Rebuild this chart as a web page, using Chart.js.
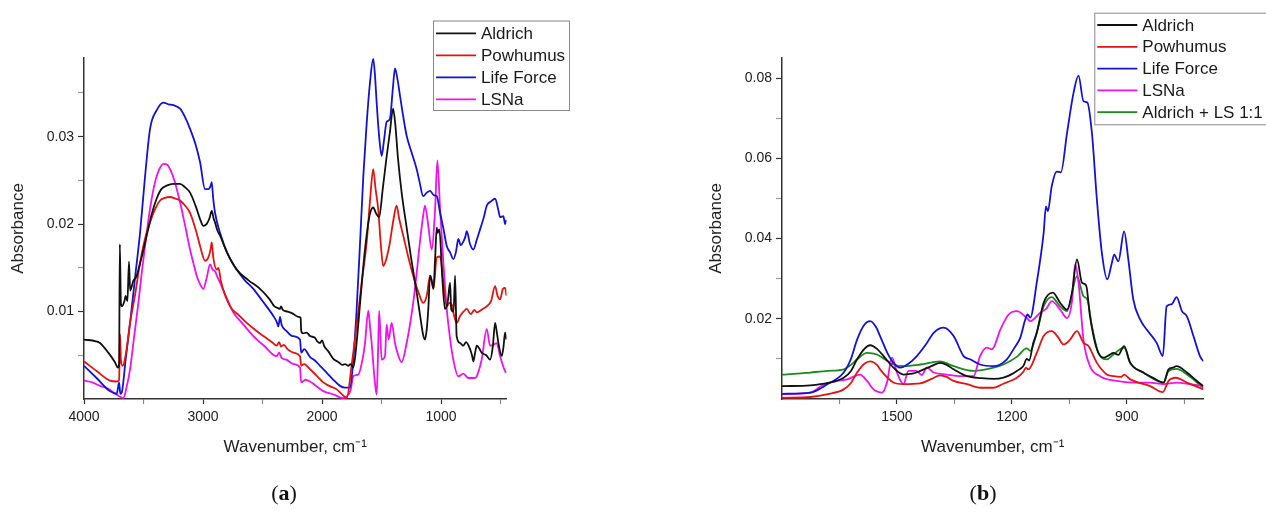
<!DOCTYPE html>
<html>
<head>
<meta charset="utf-8">
<script src="https://cdn.jsdelivr.net/npm/chart.js@4.4.1/dist/chart.umd.min.js"></script>
<style>
  body { margin: 0; background: #fff; }
  #wrap { position: relative; width: 1266px; height: 521px; overflow: hidden; }
  .panel { position: absolute; top: 0; }
  .tag { position: absolute; top: 480px; font: 22px "Liberation Serif", "DejaVu Serif", serif; color: #111; transform: translateX(-50%); }
</style>
</head>
<body>
<div id="wrap">
  <canvas id="chartA" class="panel" width="633" height="521" style="left:0"></canvas>
  <canvas id="chartB" class="panel" width="633" height="521" style="left:633px"></canvas>
  <div class="tag" style="left:284px">(<b>a</b>)</div>
  <div class="tag" style="left:983px">(<b>b</b>)</div>
</div>
<script>
// ---- panel (a): 4000-450 cm-1, [wavenumber, absorbance]
const aldrichA = [[4000,0.0068],[3900,0.0066],[3866,0.0064],[3796,0.0053],[3740,0.0042],[3715,0.0036],[3705,0.0040],[3699,0.0177],[3690,0.0110],[3681,0.0106],[3660,0.0112],[3650,0.0118],[3635,0.0112],[3622,0.0157],[3612,0.0124],[3586,0.0135],[3560,0.0140],[3520,0.0160],[3473,0.0187],[3430,0.0212],[3390,0.0229],[3350,0.0240],[3306,0.0244],[3250,0.0246],[3194,0.0246],[3150,0.0242],[3109,0.0236],[3060,0.0220],[3020,0.0204],[2997,0.0198],[2970,0.0200],[2945,0.0207],[2927,0.0215],[2910,0.0206],[2899,0.0202],[2880,0.0193],[2857,0.0187],[2800,0.0168],[2717,0.0148],[2620,0.0136],[2521,0.0126],[2440,0.0114],[2400,0.0106],[2370,0.0104],[2353,0.0103],[2345,0.0106],[2330,0.0102],[2290,0.0100],[2250,0.0098],[2200,0.0094],[2180,0.0093],[2175,0.0078],[2160,0.0075],[2130,0.0076],[2101,0.0072],[2060,0.0070],[2040,0.0066],[2017,0.0064],[2000,0.0067],[1980,0.0060],[1950,0.0055],[1905,0.0046],[1860,0.0042],[1830,0.0039],[1807,0.0040],[1780,0.0038],[1760,0.0040],[1737,0.0036],[1709,0.0065],[1680,0.0110],[1640,0.0170],[1600,0.0210],[1570,0.0219],[1545,0.0212],[1520,0.0208],[1490,0.0240],[1460,0.0274],[1430,0.0305],[1403,0.0332],[1385,0.0315],[1361,0.0274],[1330,0.0235],[1291,0.0198],[1250,0.0160],[1205,0.0122],[1170,0.0090],[1150,0.0073],[1135,0.0068],[1120,0.0080],[1107,0.0103],[1092,0.0141],[1078,0.0135],[1064,0.0126],[1050,0.0160],[1036,0.0196],[1030,0.0190],[1014,0.0194],[990,0.0140],[967,0.0103],[945,0.0110],[924,0.0133],[915,0.0103],[895,0.0100],[882,0.0141],[869,0.0072],[840,0.0064],[813,0.0061],[790,0.0065],[756,0.0057],[740,0.0050],[728,0.0043],[715,0.0052],[700,0.0061],[680,0.0058],[659,0.0053],[620,0.0050],[588,0.0045],[565,0.0060],[546,0.0087],[530,0.0075],[518,0.0064],[490,0.0049],[475,0.0060],[462,0.0076],[450,0.0068]];
const powhumusA = [[4000,0.0043],[3894,0.0032],[3782,0.0021],[3725,0.0020],[3705,0.0022],[3697,0.0074],[3690,0.0045],[3675,0.0038],[3650,0.0050],[3613,0.0087],[3570,0.0120],[3529,0.0156],[3490,0.0182],[3445,0.0202],[3400,0.0218],[3361,0.0227],[3320,0.0230],[3277,0.0231],[3230,0.0229],[3193,0.0227],[3150,0.0221],[3109,0.0213],[3060,0.0193],[3025,0.0175],[2983,0.0158],[2955,0.0162],[2935,0.0172],[2927,0.0179],[2913,0.0161],[2885,0.0148],[2870,0.0150],[2850,0.0135],[2773,0.0106],[2700,0.0096],[2633,0.0087],[2560,0.0079],[2493,0.0072],[2420,0.0065],[2381,0.0061],[2360,0.0065],[2345,0.0060],[2320,0.0062],[2290,0.0057],[2240,0.0053],[2185,0.0049],[2175,0.0038],[2150,0.0040],[2101,0.0034],[2070,0.0030],[2040,0.0026],[1989,0.0019],[1940,0.0015],[1877,0.0011],[1830,0.0005],[1793,0.0001],[1750,0.0040],[1709,0.0084],[1665,0.0135],[1625,0.0179],[1595,0.0230],[1570,0.0263],[1550,0.0240],[1528,0.0217],[1505,0.0175],[1486,0.0152],[1460,0.0160],[1430,0.0179],[1400,0.0205],[1374,0.0221],[1350,0.0205],[1318,0.0187],[1280,0.0165],[1234,0.0141],[1190,0.0122],[1150,0.0110],[1120,0.0118],[1092,0.0141],[1078,0.0135],[1064,0.0126],[1036,0.0162],[1008,0.0163],[980,0.0133],[952,0.0106],[930,0.0110],[910,0.0108],[890,0.0095],[869,0.0087],[840,0.0095],[810,0.0100],[784,0.0103],[750,0.0097],[720,0.0102],[700,0.0099],[650,0.0103],[616,0.0106],[580,0.0112],[546,0.0129],[525,0.0118],[504,0.0114],[480,0.0126],[462,0.0127],[450,0.0118]];
const lifeForceA = [[4000,0.0038],[3894,0.0024],[3782,0.0009],[3725,0.0006],[3705,0.0019],[3695,0.0006],[3684,0.0007],[3650,0.0045],[3613,0.0087],[3570,0.0140],[3529,0.0190],[3490,0.0250],[3445,0.0309],[3390,0.0330],[3333,0.0339],[3290,0.0337],[3249,0.0336],[3193,0.0332],[3150,0.0322],[3109,0.0309],[3060,0.0290],[3025,0.0271],[2983,0.0240],[2955,0.0240],[2935,0.0244],[2927,0.0248],[2915,0.0230],[2899,0.0213],[2857,0.0190],[2790,0.0165],[2717,0.0148],[2650,0.0136],[2577,0.0126],[2500,0.0112],[2409,0.0095],[2380,0.0088],[2367,0.0083],[2353,0.0094],[2340,0.0085],[2300,0.0078],[2250,0.0072],[2185,0.0068],[2175,0.0053],[2150,0.0057],[2100,0.0048],[2060,0.0044],[2017,0.0038],[1960,0.0030],[1905,0.0022],[1849,0.0015],[1807,0.0013],[1765,0.0013],[1740,0.0040],[1709,0.0103],[1680,0.0180],[1653,0.0255],[1625,0.0315],[1597,0.0362],[1570,0.0389],[1555,0.0370],[1541,0.0339],[1520,0.0300],[1499,0.0278],[1480,0.0295],[1457,0.0317],[1430,0.0320],[1405,0.0355],[1387,0.0378],[1365,0.0365],[1345,0.0347],[1320,0.0325],[1289,0.0301],[1250,0.0283],[1205,0.0263],[1180,0.0248],[1150,0.0232],[1120,0.0236],[1092,0.0238],[1060,0.0233],[1036,0.0232],[1008,0.0213],[980,0.0195],[952,0.0175],[925,0.0168],[897,0.0160],[875,0.0168],[855,0.0183],[835,0.0176],[813,0.0180],[795,0.0186],[784,0.0192],[756,0.0177],[728,0.0171],[700,0.0182],[672,0.0194],[640,0.0208],[616,0.0221],[580,0.0226],[546,0.0229],[520,0.0217],[504,0.0208],[476,0.0209],[462,0.0200],[450,0.0205]];
const lsnaA = [[4000,0.0021],[3930,0.0019],[3866,0.0015],[3800,0.0012],[3725,0.0005],[3670,0.0001],[3640,0.0015],[3613,0.0034],[3580,0.0070],[3543,0.0110],[3510,0.0150],[3473,0.0190],[3440,0.0222],[3403,0.0248],[3370,0.0262],[3333,0.0269],[3300,0.0268],[3277,0.0263],[3240,0.0250],[3193,0.0225],[3150,0.0198],[3109,0.0171],[3080,0.0155],[3053,0.0141],[3020,0.0130],[2997,0.0126],[2970,0.0138],[2941,0.0154],[2920,0.0148],[2899,0.0146],[2880,0.0140],[2857,0.0133],[2800,0.0115],[2745,0.0099],[2660,0.0085],[2577,0.0072],[2480,0.0060],[2381,0.0049],[2360,0.0053],[2340,0.0047],[2300,0.0045],[2240,0.0040],[2185,0.0036],[2175,0.0019],[2140,0.0022],[2101,0.0020],[2060,0.0016],[1989,0.0009],[1900,0.0005],[1821,0.0001],[1793,0.0003],[1760,0.0010],[1737,0.0026],[1695,0.0028],[1660,0.0045],[1639,0.0064],[1611,0.0101],[1595,0.0080],[1583,0.0064],[1560,0.0025],[1541,0.0005],[1530,0.0050],[1520,0.0101],[1499,0.0045],[1471,0.0049],[1457,0.0085],[1440,0.0068],[1415,0.0087],[1387,0.0064],[1360,0.0050],[1331,0.0042],[1289,0.0064],[1234,0.0110],[1200,0.0150],[1178,0.0179],[1150,0.0210],[1135,0.0221],[1107,0.0198],[1079,0.0171],[1050,0.0217],[1031,0.0273],[1008,0.0217],[980,0.0155],[952,0.0103],[925,0.0070],[897,0.0045],[855,0.0026],[813,0.0029],[770,0.0024],[720,0.0024],[700,0.0026],[659,0.0045],[616,0.0080],[588,0.0061],[560,0.0062],[532,0.0064],[504,0.0049],[462,0.0032],[450,0.0030]];

// ---- panel (b): 1800-700 cm-1
const aldrichB = [[1800,0.0032],[1726,0.0034],[1680,0.0040],[1639,0.0053],[1620,0.0070],[1604,0.0099],[1585,0.0125],[1570,0.0134],[1552,0.0125],[1535,0.0107],[1509,0.0078],[1483,0.0061],[1460,0.0063],[1439,0.0070],[1410,0.0082],[1387,0.0090],[1370,0.0085],[1352,0.0074],[1317,0.0057],[1280,0.0052],[1248,0.0050],[1222,0.0053],[1200,0.0062],[1187,0.0070],[1170,0.0082],[1161,0.0100],[1155,0.0096],[1144,0.0140],[1135,0.0165],[1117,0.0240],[1093,0.0265],[1074,0.0240],[1056,0.0223],[1043,0.0265],[1030,0.0348],[1017,0.0290],[1006,0.0283],[996,0.0206],[978,0.0124],[961,0.0103],[945,0.0110],[935,0.0115],[922,0.0110],[907,0.0132],[891,0.0090],[857,0.0066],[830,0.0052],[804,0.0041],[791,0.0074],[780,0.0078],[770,0.0082],[743,0.0066],[717,0.0045],[700,0.0032]];
const powhumusB = [[1800,0.0003],[1726,0.0005],[1680,0.0012],[1639,0.0024],[1620,0.0040],[1604,0.0066],[1585,0.0088],[1570,0.0094],[1552,0.0085],[1544,0.0074],[1509,0.0041],[1483,0.0037],[1439,0.0039],[1410,0.0050],[1387,0.0059],[1370,0.0055],[1352,0.0045],[1317,0.0037],[1283,0.0028],[1248,0.0028],[1222,0.0038],[1204,0.0045],[1187,0.0053],[1170,0.0068],[1163,0.0078],[1157,0.0074],[1135,0.0115],[1117,0.0157],[1096,0.0169],[1080,0.0155],[1065,0.0136],[1048,0.0148],[1030,0.0169],[1013,0.0140],[1000,0.0132],[978,0.0090],[952,0.0061],[935,0.0057],[915,0.0055],[907,0.0061],[891,0.0049],[839,0.0032],[806,0.0017],[791,0.0045],[772,0.0053],[743,0.0041],[700,0.0024]];
const lifeForceB = [[1800,0.0013],[1726,0.0016],[1683,0.0036],[1639,0.0066],[1620,0.0100],[1604,0.0148],[1585,0.0185],[1570,0.0194],[1555,0.0180],[1544,0.0157],[1525,0.0115],[1509,0.0090],[1491,0.0078],[1470,0.0088],[1448,0.0107],[1425,0.0135],[1404,0.0165],[1378,0.0178],[1352,0.0157],[1326,0.0107],[1309,0.0099],[1283,0.0086],[1248,0.0082],[1213,0.0099],[1195,0.0125],[1178,0.0153],[1165,0.0198],[1159,0.0211],[1152,0.0203],[1135,0.0290],[1117,0.0414],[1111,0.0480],[1106,0.0468],[1096,0.0530],[1083,0.0567],[1072,0.0565],[1056,0.0663],[1039,0.0763],[1026,0.0806],[1013,0.0742],[1003,0.0739],[991,0.0663],[978,0.0497],[965,0.0364],[951,0.0298],[939,0.0339],[933,0.0360],[922,0.0343],[907,0.0418],[896,0.0348],[883,0.0248],[865,0.0198],[848,0.0173],[822,0.0140],[806,0.0107],[796,0.0231],[783,0.0236],[770,0.0254],[756,0.0219],[743,0.0206],[726,0.0157],[709,0.0107],[700,0.0094]];
const lsnaB = [[1800,0.0012],[1726,0.0016],[1691,0.0036],[1657,0.0045],[1630,0.0049],[1596,0.0061],[1578,0.0045],[1561,0.0024],[1539,0.0016],[1526,0.0041],[1513,0.0103],[1500,0.0066],[1483,0.0037],[1470,0.0070],[1450,0.0070],[1435,0.0060],[1422,0.0078],[1404,0.0066],[1370,0.0061],[1335,0.0057],[1300,0.0057],[1283,0.0107],[1265,0.0128],[1252,0.0124],[1230,0.0173],[1209,0.0210],[1187,0.0219],[1161,0.0202],[1152,0.0194],[1126,0.0215],[1110,0.0225],[1096,0.0244],[1074,0.0223],[1056,0.0202],[1043,0.0244],[1035,0.0335],[1026,0.0290],[1013,0.0148],[996,0.0082],[970,0.0057],[926,0.0045],[883,0.0041],[839,0.0041],[804,0.0037],[770,0.0041],[735,0.0037],[700,0.0032]];
const mixB = [[1800,0.0061],[1760,0.0063],[1726,0.0066],[1680,0.0070],[1639,0.0074],[1620,0.0085],[1604,0.0099],[1578,0.0115],[1552,0.0111],[1530,0.0098],[1509,0.0086],[1483,0.0082],[1439,0.0086],[1387,0.0094],[1352,0.0082],[1300,0.0070],[1248,0.0078],[1222,0.0086],[1187,0.0105],[1161,0.0126],[1152,0.0120],[1135,0.0165],[1117,0.0231],[1096,0.0254],[1074,0.0231],[1056,0.0219],[1030,0.0306],[1013,0.0256],[1003,0.0248],[991,0.0182],[974,0.0115],[952,0.0099],[935,0.0111],[907,0.0128],[891,0.0090],[857,0.0066],[804,0.0041],[791,0.0070],[770,0.0075],[743,0.0061],[700,0.0028]];

// ticks
const xTicksA = [4000, 3500, 3000, 2500, 2000, 1500, 1000, 500];
const xLabelsA = [4000, 3000, 2000, 1000];
const yTicksA = [0.005, 0.01, 0.015, 0.02, 0.025, 0.03, 0.035];
const yLabelsA = ['0.01', '0.02', '0.03'];
const xTicksB = [1650, 1500, 1350, 1200, 1050, 900, 750];
const xLabelsB = [1500, 1200, 900];
const yTicksB = [0.01, 0.02, 0.03, 0.04, 0.05, 0.06, 0.07, 0.08];
const yLabelsB = ['0.02', '0.04', '0.06', '0.08'];

const namesA = ['Aldrich', 'Powhumus', 'Life Force', 'LSNa'];
const namesB = ['Aldrich', 'Powhumus', 'Life Force', 'LSNa', 'Aldrich + LS 1:1'];
const colors = ['#111111', '#e3130f', '#1212d6', '#f010f0', '#1b8a1b'];

const FONT = '"Liberation Sans", Arial, sans-serif';

// legend drawn as a framed box at a fixed spot, like the original figure
const boxLegend = {
    id: 'boxLegend',
    afterDraw: function(chart, args, o) {
        const ctx = chart.ctx;
        ctx.save();
        ctx.fillStyle = '#fff';
        ctx.fillRect(o.x, o.y, o.w, o.h);
        ctx.strokeStyle = '#8a8a8a';
        ctx.lineWidth = 1;
        ctx.strokeRect(o.x + 0.5, o.y + 0.5, o.w, o.h);
        ctx.font = '17px ' + FONT;
        ctx.textBaseline = 'middle';
        chart.data.datasets.forEach((ds, i) => {
            const yy = o.y + o.first + i * o.gap;
            ctx.strokeStyle = ds.borderColor;
            ctx.lineWidth = 1.8;
            ctx.beginPath();
            ctx.moveTo(o.x + 3, yy);
            ctx.lineTo(o.x + 43, yy);
            ctx.stroke();
            ctx.fillStyle = '#1a1a1a';
            ctx.fillText(ds.label, o.x + 48, yy + 1);
        });
        ctx.restore();
    }
};

function toPts(arr) {
    return arr.map(p => ({ x: p[0], y: p[1] }));
}

function makeChart(id, names, series, cfg) {
    const datasets = series.map((s, i) => ({
        label: names[i],
        data: toPts(s),
        borderColor: colors[i],
        borderWidth: 1.8,
        pointRadius: 0,
        cubicInterpolationMode: 'monotone',
        fill: false
    }));
    const tickFont = { family: FONT, size: 14 };
    const titleFont = { family: FONT, size: 17 };
    return new Chart(document.getElementById(id), {
        type: 'line',
        data: { datasets: datasets },
        plugins: [boxLegend],
        options: {
            responsive: false,
            animation: false,
            parsing: false,
            layout: { padding: cfg.padding },
            plugins: {
                legend: { display: false },
                tooltip: { enabled: false },
                boxLegend: cfg.legend
            },
            scales: {
                x: {
                    type: 'linear',
                    reverse: true,
                    min: cfg.xMin,
                    max: cfg.xMax,
                    afterBuildTicks: s => { s.ticks = cfg.xTicks.map(v => ({ value: v })); },
                    afterFit: s => { s.height = 60; },
                    ticks: {
                        autoSkip: false,
                        maxRotation: 0,
                        padding: 5,
                        color: '#222',
                        font: tickFont,
                        callback: v => cfg.xLabels.includes(v) ? String(v) : ''
                    },
                    grid: {
                        drawOnChartArea: false,
                        tickLength: 5,
                        tickWidth: 1.2,
                        tickColor: c => (c.tick && cfg.xLabels.includes(c.tick.value)) ? '#333' : '#888'
                    },
                    border: { display: true, color: '#333', width: 1.5 },
                    title: {
                        display: true,
                        text: 'Wavenumber, cm⁻¹',
                        color: '#222',
                        font: titleFont,
                        padding: { top: 4, bottom: 1 }
                    }
                },
                y: {
                    type: 'linear',
                    min: 0,
                    max: cfg.yMax,
                    afterBuildTicks: s => { s.ticks = cfg.yTicks.map(v => ({ value: v })); },
                    afterFit: s => { s.width = 84; },
                    ticks: {
                        autoSkip: false,
                        padding: 4,
                        color: '#222',
                        font: tickFont,
                        callback: v => {
                            const t = v.toFixed(2);
                            return (cfg.yLabels.includes(t) && Math.abs(v - parseFloat(t)) < 1e-9) ? t : '';
                        }
                    },
                    grid: {
                        drawOnChartArea: false,
                        tickLength: 6,
                        tickWidth: 1.2,
                        tickColor: c => {
                            if (!c.tick) return '#888';
                            const t = c.tick.value.toFixed(2);
                            return (cfg.yLabels.includes(t) && Math.abs(c.tick.value - parseFloat(t)) < 1e-9) ? '#333' : '#999';
                        }
                    },
                    border: { display: true, color: '#333', width: 1.5 },
                    title: {
                        display: true,
                        text: 'Absorbance',
                        color: '#222',
                        font: titleFont,
                        padding: 8
                    }
                }
            }
        }
    });
}

makeChart('chartA', namesA, [aldrichA, powhumusA, lifeForceA, lsnaA], {
    xMin: 450, xMax: 4000, yMax: 0.039,
    xTicks: xTicksA, xLabels: xLabelsA, yTicks: yTicksA, yLabels: yLabelsA,
    padding: { left: 0, top: 58, right: 126.5, bottom: 62 },
    legend: { x: 433, y: 20.5, w: 136, h: 89.5, first: 12.8, gap: 22 }
});

makeChart('chartB', namesB, [aldrichB, powhumusB, lifeForceB, lsnaB, mixB], {
    xMin: 700, xMax: 1800, yMax: 0.085,
    xTicks: xTicksB, xLabels: xLabelsB, yTicks: yTicksB, yLabels: yLabelsB,
    padding: { left: 65, top: 58, right: 62.6, bottom: 62 },
    legend: { x: 461.3, y: 12.7, w: 200, h: 111.6, first: 12.3, gap: 21.8 }
});
</script>
</body>
</html>
